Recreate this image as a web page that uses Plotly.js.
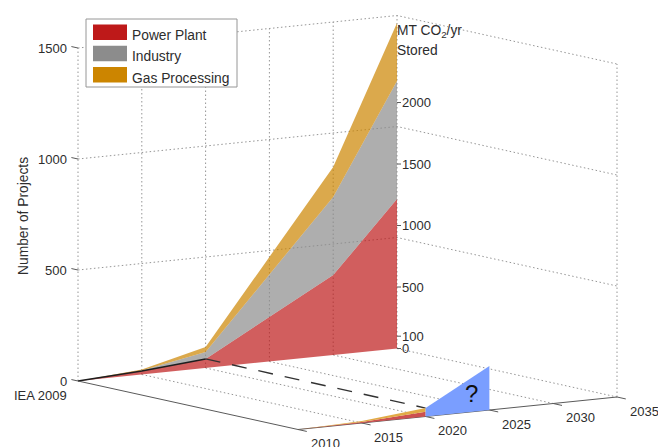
<!DOCTYPE html>
<html>
<head>
<meta charset="utf-8">
<script src="https://cdn.plot.ly/plotly-3.0.1.min.js"></script>
<style>html,body{margin:0;padding:0;background:#fff}#chart{width:658px;height:447px}</style>
</head>
<body>
<div id="chart"></div>
<script>
// ---- data ----
const years = [2010, 2015, 2020, 2025, 2030, 2035];
const areaYears = [2010, 2015, 2020, 2030, 2035];
const powerPlant = [0, 16, 41, 360, 673];
const industryTop = [0, 18, 72, 712, 1205];
const gasTop = [0, 22, 95, 847, 1466];
const frontYears = [2010, 2015, 2020];
const frontPower = [0, 5, 21];
const frontGasTop = [0, 9, 38];
const questionYears = [2020, 2025];
const questionTop = [38, 198];
const projectTicks = [0, 500, 1000, 1500];
const storedTicks = [0, 100, 500, 1000, 1500, 2000];
const storedTickLabels = ['0', '100', '500', '1000', '1500', '2000'];
const legendNames = ['Power Plant', 'Industry', 'Gas Processing'];
const legendColors = ['rgb(190,25,25)', 'rgb(140,140,140)', 'rgb(204,133,0)'];
const bandColors = ['rgba(190,25,25,0.7)', 'rgba(140,140,140,0.7)', 'rgba(204,133,0,0.7)'];

// ---- oblique view: year, depth (0 = IEA 2009 wall, 1 = front), value ----
const W = 658, H = 447;
const pxPerYear = 12.76, pxPerUnit = 0.222, risePerYear = 1.3, depthDx = 220, depthDy = 48.5;
const originX = 78, originY = 381;
const storedScale = 0.554;
const fx = (yr, d) => yr + d * depthDx / pxPerYear;
const fy = (yr, d, v) => v + (yr - 2010) * risePerYear / pxPerUnit - d * depthDy / pxPerUnit;

const traces = [];
function line(pts, color, width, dash) {
  traces.push({type: 'scatter', mode: 'lines', hoverinfo: 'skip', showlegend: false,
    x: pts.map(p => fx(p[0], p[1])), y: pts.map(p => fy(p[0], p[1], p[2])),
    line: {color: color, width: width, dash: dash || 'solid'}});
}
function band(xs, d, lower, upper, color) {
  const pts = xs.map((yr, i) => [yr, d, upper[i]]).concat(xs.map((yr, i) => [yr, d, lower[i]]).reverse());
  traces.push({type: 'scatter', mode: 'lines', fill: 'toself', hoverinfo: 'skip', showlegend: false,
    fillcolor: color, line: {width: 0, color: color},
    x: pts.map(p => fx(p[0], p[1])), y: pts.map(p => fy(p[0], p[1], p[2]))});
}

const grid = 'rgb(150,150,150)';
const gridDash = '1.5px,2.5px';
const axisC = 'rgb(90,90,90)';
const zMax = projectTicks[projectTicks.length - 1];
// back wall verticals
years.forEach(yr => line([[yr, 0, 0], [yr, 0, zMax]], grid, 1, gridDash));
// right wall vertical
line([[2035, 1, 0], [2035, 1, zMax]], grid, 1, gridDash);
// horizontal grid on both walls
projectTicks.slice(1).forEach(v => line([[2010, 0, v], [2035, 0, v], [2035, 1, v]], grid, 1, gridDash));
// floor grid
years.slice(1).forEach(yr => line([[yr, 0, 0], [yr, 1, 0]], grid, 1, gridDash));

// back areas
const zeros = areaYears.map(() => 0);
band(areaYears, 0, zeros, powerPlant, bandColors[0]);
band(areaYears, 0, powerPlant, industryTop, bandColors[1]);
band(areaYears, 0, industryTop, gasTop, bandColors[2]);

// actual line and dashed link
const k2020 = areaYears.indexOf(2020);
line(areaYears.slice(0, k2020 + 1).map((yr, i) => [yr, 0, powerPlant[i]]), 'rgb(30,30,30)', 1.5);
line([[2020, 0, powerPlant[k2020]], [2020, 1, frontGasTop[2]]], 'rgb(50,50,50)', 1.4, '15px,12px');

// axes
line([[2010, 0, 0], [2010, 1, 0], [2035, 1, 0]], axisC, 1);
years.forEach(yr => line([[yr, 1, 0], [yr, 1.04, 0]], axisC, 1));
projectTicks.forEach(v => line([[2010, 0, v], [2010, -0.03, v]], axisC, 1));
storedTicks.forEach(v => traces.push({type: 'scatter', mode: 'lines', hoverinfo: 'skip', showlegend: false,
  x: [fx(2035, 0), fx(2035, 0) + 4 / pxPerYear],
  y: [fy(2035, 0, v * storedScale), fy(2035, 0, v * storedScale)],
  line: {color: axisC, width: 1}}));

// front areas
const frontZeros = frontYears.map(() => 0);
band(frontYears, 1, frontZeros, frontPower, 'rgb(205,80,80)');
band(frontYears, 1, frontPower, frontGasTop, 'rgb(225,170,70)');
band(questionYears, 1, questionYears.map(() => 0), questionTop, 'rgb(122,158,255)');

// ---- text ----
const font = {family: 'Liberation Sans, Arial, sans-serif', size: 13, color: 'rgb(45,45,45)'};
const bigFont = {family: font.family, size: 13.8, color: font.color};
const annotations = [];
function note(text, x, y, anchor, xs, ys, extra) {
  annotations.push(Object.assign({text: text, x: x, y: y, xref: 'x', yref: 'y', showarrow: false,
    xanchor: anchor, yanchor: 'middle', xshift: xs, yshift: ys, font: font, borderpad: 0, borderwidth: 0}, extra || {}));
}
function paperNote(text, px, py, anchor, extra) {
  annotations.push(Object.assign({text: text, x: px / W, y: 1 - py / H, xref: 'paper', yref: 'paper', showarrow: false,
    xanchor: anchor, yanchor: 'middle', font: font, borderpad: 0, borderwidth: 0}, extra || {}));
}
projectTicks.forEach(v => note(String(v), fx(2010, 0), fy(2010, 0, v), 'right', -11, 0));
note('IEA 2009', fx(2010, 0), fy(2010, 0, 0), 'right', -11, -14);
years.forEach(yr => note(String(yr), fx(yr, 1), fy(yr, 1, 0), 'center', 27, -14));
storedTicks.forEach((v, i) => note(storedTickLabels[i], fx(2035, 0), fy(2035, 0, v * storedScale), 'left', 5, 0));
note('?', fx(2025, 1), fy(2025, 1, 70), 'right', -11, 1, {font: {family: font.family, size: 24, color: 'rgb(15,15,15)'}});
paperNote('MT CO<sub>2</sub>/yr', 397, 32, 'left', {font: bigFont});
paperNote('Stored', 397, 50, 'left', {font: bigFont});
paperNote('Number of Projects', 23, 216, 'center', {textangle: -90, font: bigFont});

// legend box, real text with drawn swatches
const shapes = [];
const pxRect = (x0, y0, x1, y1, fill, lineC) => ({type: 'rect', xref: 'paper', yref: 'paper', layer: 'above',
  x0: x0 / W, x1: x1 / W, y0: 1 - y0 / H, y1: 1 - y1 / H, fillcolor: fill, line: {color: lineC, width: lineC === fill ? 0 : 1}});
shapes.push(pxRect(86, 19, 237, 87, 'white', 'rgb(150,150,150)'));
legendNames.forEach((name, i) => {
  const top = 24.5 + i * 21.3;
  shapes.push(pxRect(93, top, 127, top + 15.5, legendColors[i], legendColors[i]));
  paperNote(name, 132, top + 11, 'left', {font: bigFont});
});

Plotly.newPlot('chart', traces, {
  width: W, height: H, margin: {l: 0, r: 0, t: 0, b: 0}, showlegend: false,
  paper_bgcolor: 'white', plot_bgcolor: 'white', hovermode: false,
  xaxis: {visible: false, fixedrange: true, range: [2010 - originX / pxPerYear, 2010 + (W - originX) / pxPerYear]},
  yaxis: {visible: false, fixedrange: true, range: [(originY - H) / pxPerUnit, originY / pxPerUnit]},
  shapes: shapes, annotations: annotations
}, {displayModeBar: false, staticPlot: true});
</script>
</body>
</html>
